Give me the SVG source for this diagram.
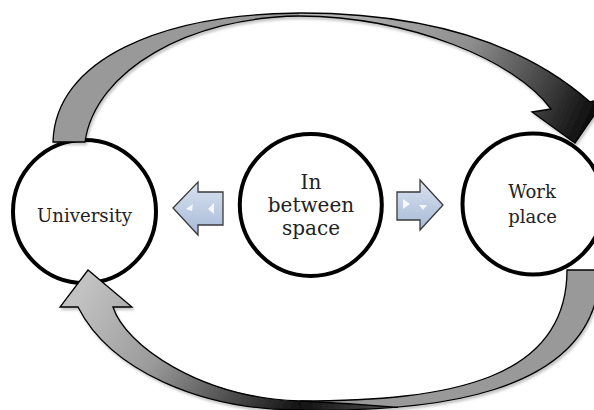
<svg xmlns="http://www.w3.org/2000/svg" width="594" height="410" viewBox="0 0 594 410">
  <style>
    .node { fill: #ffffff; stroke: #000000; stroke-width: 4; }
    .label { font-family: "DejaVu Serif", "Liberation Serif", serif; fill: #222222; text-anchor: middle; }
    .outline { fill: none; stroke: #000000; stroke-width: 1.3; stroke-linejoin: miter; }
    .back { fill: #999999; stroke: none; }
    .blue { fill: url(#blueGrad); stroke: #3a3a3a; stroke-width: 1.3; stroke-linejoin: miter; }
    .hl { fill: #ffffff; opacity: 0.85; }
  </style>
  <defs>
    <linearGradient id="topGrad" gradientUnits="userSpaceOnUse" x1="300" y1="13" x2="575" y2="143">
      <stop offset="0" stop-color="#bcbcbc"/>
      <stop offset="0.55" stop-color="#8e8e8e"/>
      <stop offset="0.85" stop-color="#3c3c3c"/>
      <stop offset="1" stop-color="#111111"/>
    </linearGradient>
    <linearGradient id="botGrad" gradientUnits="userSpaceOnUse" x1="88" y1="280" x2="300" y2="408">
      <stop offset="0" stop-color="#c2c2c2"/>
      <stop offset="0.4" stop-color="#9a9a9a"/>
      <stop offset="1" stop-color="#111111"/>
    </linearGradient>
    <linearGradient id="tailGrad" gradientUnits="userSpaceOnUse" x1="300" y1="0" x2="400" y2="0">
      <stop offset="0" stop-color="#111111"/>
      <stop offset="1" stop-color="#555555"/>
    </linearGradient>
    <linearGradient id="blueGrad" x1="0" y1="0" x2="0" y2="1">
      <stop offset="0" stop-color="#d9e3f1"/>
      <stop offset="1" stop-color="#a6b9d6"/>
    </linearGradient>
    <filter id="shadow" x="-10%" y="-10%" width="120%" height="120%">
      <feDropShadow dx="1.5" dy="2.5" stdDeviation="0.8" flood-color="#000000" flood-opacity="0.22"/>
    </filter>
  </defs>

  <g id="university">
    <circle class="node" cx="84.5" cy="211.5" r="71.5"/>
    <text class="label" x="84.5" y="222" font-size="19" textLength="95" lengthAdjust="spacingAndGlyphs">University</text>
  </g>

  <g id="in-between-space">
    <circle class="node" cx="310.8" cy="205" r="71"/>
    <text class="label" x="311" y="189" font-size="20">In</text>
    <text class="label" x="311" y="212" font-size="20">between</text>
    <text class="label" x="311" y="235" font-size="20">space</text>
  </g>

  <g id="workplace">
    <circle class="node" cx="533" cy="204" r="70.5"/>
    <text class="label" x="532" y="198" font-size="18">Work</text>
    <text class="label" x="532.5" y="223" font-size="18">place</text>
  </g>

  <g id="connectors">
    <g id="top-arrow" filter="url(#shadow)">
      <path class="back" d="M53,142 C55,60 160,14 300,13 L300,16 C190,17 95,70 85,142 Z"/>
      <path fill="url(#topGrad)" d="M299,13 C420,13 520,40 590,102 L606,98 L575,143 L532,112 L551,109 C515,60 410,17 299,16 Z"/>
      <path class="outline" d="M53,142 C55,60 160,14 300,13 C420,13 520,40 590,102 L606,98 L575,143 L532,112 L551,109 C515,60 410,17 300,16 C190,17 95,70 85,142 Z"/>
    </g>
    <g id="bottom-arrow" filter="url(#shadow)">
      <path class="back" d="M567,270 L600,270 C598,400 420,412 300,410 L300,401 C450,401 567,380 567,270 Z"/>
      <path fill="url(#botGrad)" d="M301,410 C200,410 110,370 78,307 L60,307 L88,270 L132,307 L113,307 C125,345 200,398 301,401 Z"/>
      <path fill="url(#tailGrad)" d="M299,401 Q350,403.5 398,407.3 Q350,410.5 299,410 Z"/>
      <path class="outline" d="M300,401 Q350,403.5 398,407.3" stroke-width="0.8"/>
      <path class="outline" d="M567,270 L600,270 C598,400 420,412 300,410 C200,410 110,370 78,307 L60,307 L88,270 L132,307 L113,307 C125,345 200,398 300,401 C450,401 567,380 567,270 Z"/>
    </g>
    <g id="left-arrow">
      <path class="blue" d="M173,208 L198,182 L198,192 L223,192 L223,225 L198,225 L198,235 Z"/>
      <path class="hl" d="M186,209 L193,204 L192,211 Z"/>
      <path class="hl" d="M208,209 L214,203 L214,214 Z"/>
    </g>
    <g id="right-arrow">
      <path class="blue" d="M443,205 L420,180 L420,192 L397,192 L397,220 L420,220 L420,230 Z"/>
      <path class="hl" d="M403,199 L410,204 L403,209 Z"/>
      <path class="hl" d="M419,205 L427,205 L423,210 Z"/>
    </g>
  </g>
</svg>
